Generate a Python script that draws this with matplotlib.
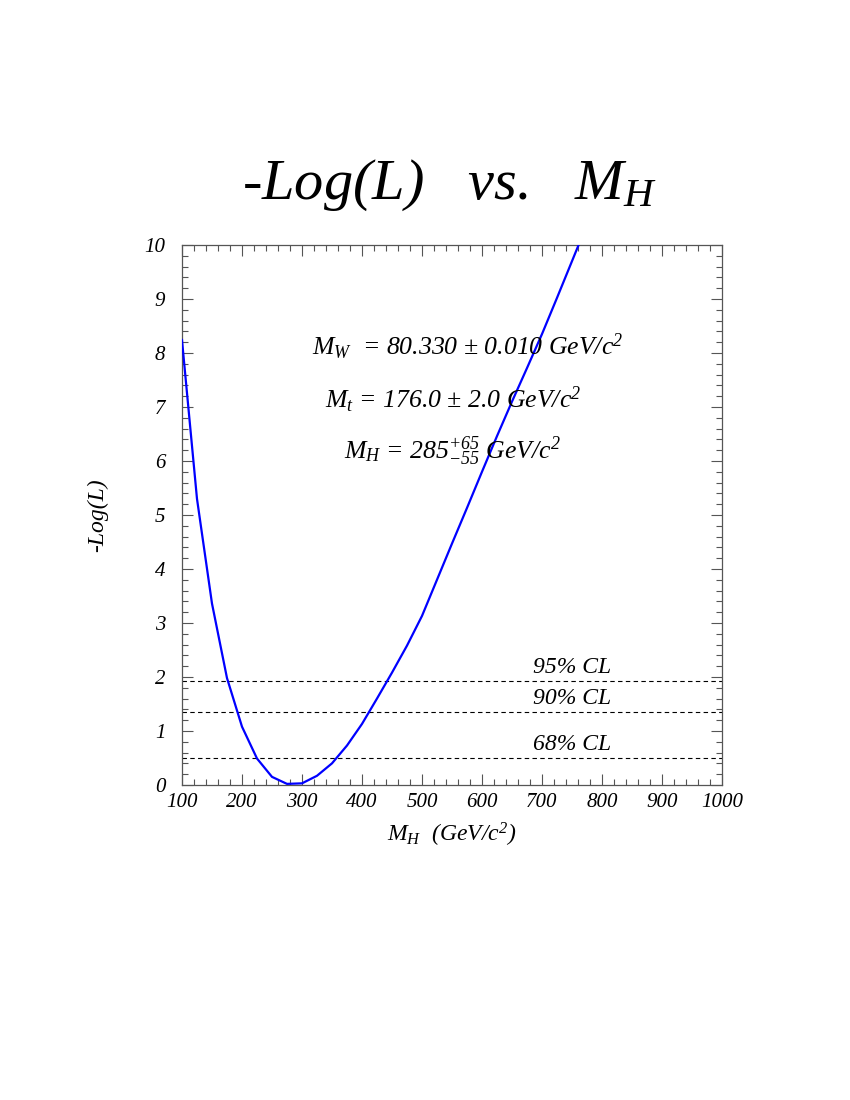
import matplotlib
matplotlib.use("Agg")
import matplotlib.pyplot as plt
from matplotlib.ticker import MultipleLocator

plt.rcParams["font.family"] = ["Liberation Serif", "DejaVu Serif"]
plt.rcParams["font.style"] = "italic"
plt.rcParams["mathtext.fontset"] = "custom"
plt.rcParams["mathtext.rm"] = "Liberation Serif:italic"
plt.rcParams["mathtext.it"] = "Liberation Serif:italic"

# -Log(L) scan vs Higgs mass
mh = [100, 125, 150, 175, 200, 225, 250, 275, 300, 325, 350, 375, 400,
      425, 450, 475, 500, 525, 550, 575, 600, 625, 650, 675, 700, 725,
      750, 761]
nll = [8.24, 5.30, 3.36, 1.98, 1.08, 0.49, 0.15, 0.02, 0.03, 0.17, 0.40,
       0.73, 1.13, 1.60, 2.08, 2.58, 3.13, 3.80, 4.47, 5.13, 5.80, 6.46,
       7.10, 7.72, 8.35, 9.02, 9.70, 10.0]

cl_levels = [1.92, 1.35, 0.50]
cl_labels = ["95% CL", "90% CL", "68% CL"]

fig = plt.figure(figsize=(8.5, 11), dpi=100)
ax = fig.add_axes([0.2141, 0.2864, 0.6353, 0.4909])

ax.plot(mh, nll, color="#0000ff", lw=1.6, zorder=3)

for lev, lab in zip(cl_levels, cl_labels):
    ax.axhline(lev, color="black", lw=0.8, ls=(0, (4, 3)), zorder=2)
    ax.text(750, lev + 0.06, lab, fontsize=17, ha="center", va="bottom")

ax.set_xlim(100, 1000)
ax.set_ylim(0, 10)
ax.xaxis.set_major_locator(MultipleLocator(100))
ax.xaxis.set_minor_locator(MultipleLocator(20))
ax.yaxis.set_major_locator(MultipleLocator(1))
ax.yaxis.set_minor_locator(MultipleLocator(0.2))
ax.tick_params(which="both", direction="in", top=True, right=True,
               color="#555555", labelsize=15)
ax.tick_params(which="major", length=8, width=0.8)
ax.tick_params(which="minor", length=4, width=0.8)
ax.tick_params(axis="x", pad=6)
ax.tick_params(axis="y", pad=12)
for sp in ax.spines.values():
    sp.set_color("#555555")
    sp.set_linewidth(0.9)

ax.set_xlabel(r"$M_H$  (GeV/c$^2$)", fontsize=17, labelpad=6)
ax.set_ylabel("-Log(L)", fontsize=17, labelpad=26)

ax.text(576, 8.11, r"$M_W$  = 80.330 $\pm$ 0.010 GeV/c$^2$", fontsize=18.5,
        ha="center", va="center")
ax.text(552, 7.13, r"$M_t$ = 176.0 $\pm$ 2.0 GeV/c$^2$", fontsize=18.5,
        ha="center", va="center")
ax.text(551, 6.17, r"$M_H$ = 285$^{+65}_{-55}$ GeV/c$^2$", fontsize=18.5,
        ha="center", va="center")

fig.text(0.528, 0.832, r"-Log(L)   vs.   $M_H$", fontsize=42,
         ha="center", va="center")

fig.savefig("out.png", dpi=100)
